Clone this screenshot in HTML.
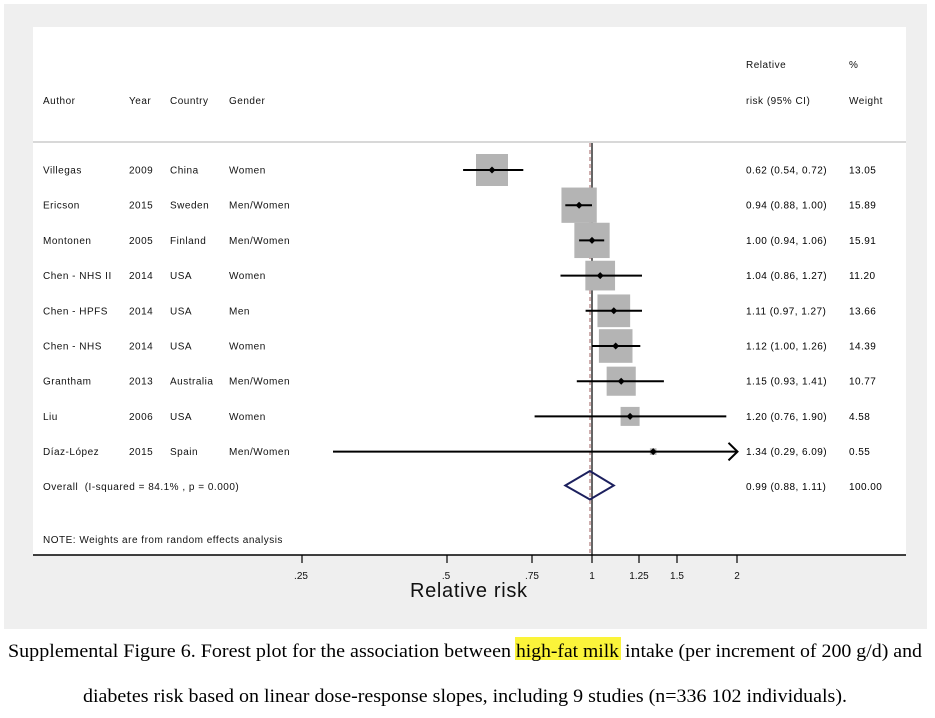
<!DOCTYPE html>
<html>
<head>
<meta charset="utf-8">
<style>
html,body{margin:0;padding:0;background:#ffffff;}
svg{display:block;}
.t{font-family:"Liberation Sans",sans-serif;font-size:10px;fill:#111;letter-spacing:0.5px;white-space:pre;}
.r{font-family:"Liberation Sans",sans-serif;font-size:10px;fill:#000;letter-spacing:0.45px;}
.tk{font-family:"Liberation Sans",sans-serif;font-size:10px;fill:#111;}
.cap{font-family:"Liberation Serif",serif;font-size:19px;fill:#000;}
</style>
</head>
<body>
<svg width="935" height="718" viewBox="0 0 935 718" xmlns="http://www.w3.org/2000/svg">
  <!-- backgrounds -->
  <rect x="0" y="0" width="935" height="718" fill="#ffffff"/>
  <rect x="4" y="4" width="923" height="625" fill="#efefef"/>
  <rect x="33" y="27" width="873" height="528" fill="#ffffff"/>

  <!-- header -->
  <text class="t" x="746" y="68">Relative</text>
  <text class="t" x="849" y="68">%</text>
  <text class="t" x="43" y="104">Author</text>
  <text class="t" x="129" y="104">Year</text>
  <text class="t" x="170" y="104">Country</text>
  <text class="t" x="229" y="104">Gender</text>
  <text class="t" x="746" y="104">risk (95% CI)</text>
  <text class="t" x="849" y="104">Weight</text>
  <line x1="33" y1="142" x2="906" y2="142" stroke="#d8d8d8" stroke-width="2"/>

  <!-- reference lines -->
  <line x1="592" y1="143" x2="592" y2="555" stroke="#000" stroke-width="1.2"/>
  <line x1="590" y1="143" x2="590" y2="555" stroke="#a06060" stroke-width="1" stroke-dasharray="4,3"/>

  <!-- boxes -->
  <g fill="#b4b4b4">
    <rect x="476.0" y="154.0" width="32.0" height="32.0"/>
    <rect x="561.45" y="187.55" width="35.3" height="35.3"/>
    <rect x="574.35" y="222.75" width="35.3" height="35.3"/>
    <rect x="585.35" y="260.75" width="29.7" height="29.7"/>
    <rect x="597.45" y="294.45" width="32.7" height="32.7"/>
    <rect x="598.9" y="329.2" width="33.6" height="33.6"/>
    <rect x="606.65" y="366.65" width="29.1" height="29.1"/>
    <rect x="620.6" y="406.9" width="19.0" height="19.0"/>
    <rect x="649.9" y="448.3" width="6.6" height="6.6"/>
  </g>

  <!-- CI lines -->
  <g stroke="#000" stroke-width="2" fill="none">
    <line x1="463.1" y1="170" x2="523.3" y2="170"/>
    <line x1="565.3" y1="205.2" x2="592" y2="205.2"/>
    <line x1="579.1" y1="240.4" x2="604.2" y2="240.4"/>
    <line x1="560.5" y1="275.6" x2="642.0" y2="275.6"/>
    <line x1="585.6" y1="310.8" x2="642.0" y2="310.8"/>
    <line x1="592" y1="346" x2="640.3" y2="346"/>
    <line x1="576.8" y1="381.2" x2="663.9" y2="381.2"/>
    <line x1="534.6" y1="416.4" x2="726.3" y2="416.4"/>
    <line x1="333" y1="451.6" x2="737" y2="451.6"/>
    <polyline points="728.5,442.8 737.5,451.6 728.5,460.4"/>
  </g>

  <!-- point estimates -->
  <g fill="#000">
    <polygon points="492.0,166.5 495.5,170 492.0,173.5 488.5,170"/>
    <polygon points="579.1,201.7 582.6,205.2 579.1,208.7 575.6,205.2"/>
    <polygon points="592.0,236.9 595.5,240.4 592.0,243.9 588.5,240.4"/>
    <polygon points="600.2,272.1 603.7,275.6 600.2,279.1 596.7,275.6"/>
    <polygon points="613.8,307.3 617.3,310.8 613.8,314.3 610.3,310.8"/>
    <polygon points="615.7,342.5 619.2,346 615.7,349.5 612.2,346"/>
    <polygon points="621.2,377.7 624.7,381.2 621.2,384.7 617.7,381.2"/>
    <polygon points="630.1,412.9 633.6,416.4 630.1,419.9 626.6,416.4"/>
    <polygon points="653.2,448.1 656.7,451.6 653.2,455.1 649.7,451.6"/>
  </g>

  <!-- overall diamond -->
  <polygon points="565.3,485.5 589.9,471 613.8,485.5 589.9,499.5" fill="none" stroke="#1c205e" stroke-width="2"/>

  <!-- rows text -->
  <g>
    <text class="t" x="43" y="173.5">Villegas</text><text class="t" x="129" y="173.5">2009</text><text class="t" x="170" y="173.5">China</text><text class="t" x="229" y="173.5">Women</text>
    <text class="r" x="746" y="173.5">0.62 (0.54, 0.72)</text><text class="r" x="849" y="173.5">13.05</text>

    <text class="t" x="43" y="208.7">Ericson</text><text class="t" x="129" y="208.7">2015</text><text class="t" x="170" y="208.7">Sweden</text><text class="t" x="229" y="208.7">Men/Women</text>
    <text class="r" x="746" y="208.7">0.94 (0.88, 1.00)</text><text class="r" x="849" y="208.7">15.89</text>

    <text class="t" x="43" y="243.9">Montonen</text><text class="t" x="129" y="243.9">2005</text><text class="t" x="170" y="243.9">Finland</text><text class="t" x="229" y="243.9">Men/Women</text>
    <text class="r" x="746" y="243.9">1.00 (0.94, 1.06)</text><text class="r" x="849" y="243.9">15.91</text>

    <text class="t" x="43" y="279.1">Chen - NHS II</text><text class="t" x="129" y="279.1">2014</text><text class="t" x="170" y="279.1">USA</text><text class="t" x="229" y="279.1">Women</text>
    <text class="r" x="746" y="279.1">1.04 (0.86, 1.27)</text><text class="r" x="849" y="279.1">11.20</text>

    <text class="t" x="43" y="314.3">Chen - HPFS</text><text class="t" x="129" y="314.3">2014</text><text class="t" x="170" y="314.3">USA</text><text class="t" x="229" y="314.3">Men</text>
    <text class="r" x="746" y="314.3">1.11 (0.97, 1.27)</text><text class="r" x="849" y="314.3">13.66</text>

    <text class="t" x="43" y="349.5">Chen - NHS</text><text class="t" x="129" y="349.5">2014</text><text class="t" x="170" y="349.5">USA</text><text class="t" x="229" y="349.5">Women</text>
    <text class="r" x="746" y="349.5">1.12 (1.00, 1.26)</text><text class="r" x="849" y="349.5">14.39</text>

    <text class="t" x="43" y="384.7">Grantham</text><text class="t" x="129" y="384.7">2013</text><text class="t" x="170" y="384.7">Australia</text><text class="t" x="229" y="384.7">Men/Women</text>
    <text class="r" x="746" y="384.7">1.15 (0.93, 1.41)</text><text class="r" x="849" y="384.7">10.77</text>

    <text class="t" x="43" y="419.9">Liu</text><text class="t" x="129" y="419.9">2006</text><text class="t" x="170" y="419.9">USA</text><text class="t" x="229" y="419.9">Women</text>
    <text class="r" x="746" y="419.9">1.20 (0.76, 1.90)</text><text class="r" x="849" y="419.9">4.58</text>

    <text class="t" x="43" y="455.1">Díaz-López</text><text class="t" x="129" y="455.1">2015</text><text class="t" x="170" y="455.1">Spain</text><text class="t" x="229" y="455.1">Men/Women</text>
    <text class="r" x="746" y="455.1">1.34 (0.29, 6.09)</text><text class="r" x="849" y="455.1">0.55</text>

    <text class="t" x="43" y="490">Overall&#160;&#160;(I-squared = 84.1% , p = 0.000)</text>
    <text class="r" x="746" y="490">0.99 (0.88, 1.11)</text><text class="r" x="849" y="490">100.00</text>

    <text class="t" x="43" y="543">NOTE: Weights are from random effects analysis</text>
  </g>

  <!-- x axis -->
  <line x1="33" y1="555" x2="906" y2="555" stroke="#000" stroke-width="1.5"/>
  <g stroke="#000" stroke-width="1.2">
    <line x1="302" y1="555" x2="302" y2="563"/>
    <line x1="447" y1="555" x2="447" y2="563"/>
    <line x1="532" y1="555" x2="532" y2="563"/>
    <line x1="592" y1="555" x2="592" y2="563"/>
    <line x1="639" y1="555" x2="639" y2="563"/>
    <line x1="677" y1="555" x2="677" y2="563"/>
    <line x1="737" y1="555" x2="737" y2="563"/>
  </g>
  <g text-anchor="middle">
    <text class="tk" x="301" y="579">.25</text>
    <text class="tk" x="446" y="579">.5</text>
    <text class="tk" x="532" y="579">.75</text>
    <text class="tk" x="592" y="579">1</text>
    <text class="tk" x="639" y="579">1.25</text>
    <text class="tk" x="677" y="579">1.5</text>
    <text class="tk" x="737" y="579">2</text>
  </g>
  <text x="410" y="597" font-family="Liberation Sans, sans-serif" font-size="20" fill="#111" textLength="117" lengthAdjust="spacing">Relative risk</text>

  <!-- caption -->
  <rect x="515" y="637" width="106" height="23" fill="#fbf43a"/>
  <text class="cap" x="8" y="657" textLength="503" lengthAdjust="spacingAndGlyphs">Supplemental Figure 6. Forest plot for the association between</text>
  <text class="cap" x="516" y="657" textLength="103" lengthAdjust="spacingAndGlyphs">high-fat milk</text>
  <text class="cap" x="625" y="657" textLength="297" lengthAdjust="spacingAndGlyphs">intake (per increment of 200 g/d) and</text>
  <text class="cap" x="83" y="702" textLength="764" lengthAdjust="spacingAndGlyphs">diabetes risk based on linear dose-response slopes, including 9 studies (n=336 102 individuals).</text>
</svg>
</body>
</html>
